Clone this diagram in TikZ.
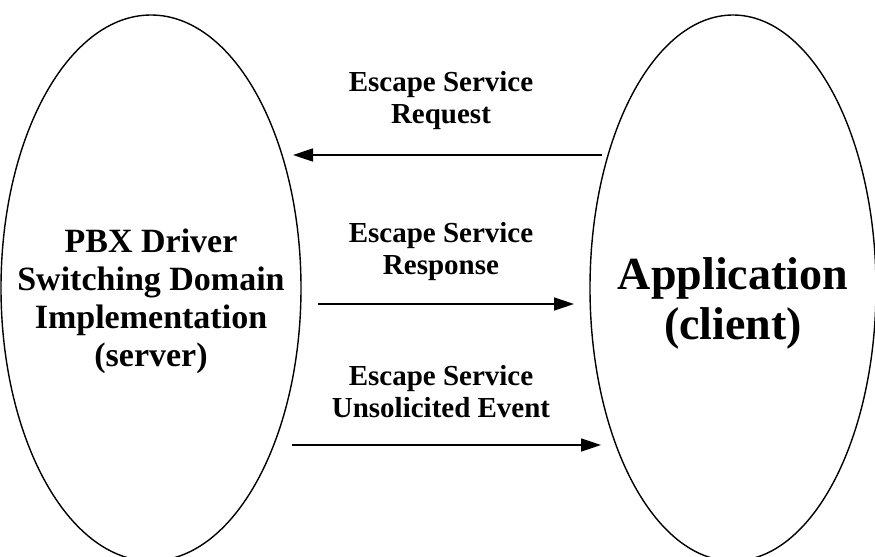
\documentclass[tikz,border=0pt]{standalone}
\usepackage{tikz}
\usepackage{fontspec}
\setmainfont{Liberation Serif}
\usetikzlibrary{arrows.meta,shapes.geometric}

\tikzset{
    sidebox/.style={draw, ellipse, line width=0.7pt, inner sep=0pt},
    msg/.style={line width=0.8pt, -{Triangle[length=10pt, width=6.5pt]}},
    msglabel/.style={align=center, font=\fontsize{14.5}{16}\selectfont\bfseries}
}

\begin{document}
\begin{tikzpicture}[x=0.5pt, y=-0.5pt]

    \useasboundingbox (0, 0) rectangle (875, 557);

    % the two sides

    \node[sidebox, minimum width=150pt, minimum height=273pt] (server) at (151, 288) {};
    \node[sidebox, minimum width=143pt, minimum height=273pt] (client) at (733, 288) {};

    \node[align=center, font=\fontsize{17}{19}\selectfont\bfseries] (servertext) at (151, 301)
        {PBX Driver\\Switching Domain\\Implementation\\(server)};

    \node[align=center, font=\fontsize{23}{25}\selectfont\bfseries] (clienttext) at (733, 303)
        {Application\\(client)};



    \coordinate (reqtail) at (602, 155);
    \coordinate (reqhead) at (293, 155);

    \coordinate (resptail) at (318, 304);
    \coordinate (resphead) at (574, 304);

    \coordinate (evttail) at (292, 445);
    \coordinate (evthead) at (601, 445);



    \draw [msg](reqtail) -- (reqhead);
    \draw [msg](resptail) -- (resphead);
    \draw [msg](evttail) -- (evthead);

    \node[msglabel] (reqlabel) at (441, 101) {Escape Service\\Request};
    \node[msglabel] (resplabel) at (441, 252) {Escape Service\\Response};
    \node[msglabel] (evtlabel) at (441, 392) {Escape Service\\Unsolicited Event};

\end{tikzpicture}
\end{document}
